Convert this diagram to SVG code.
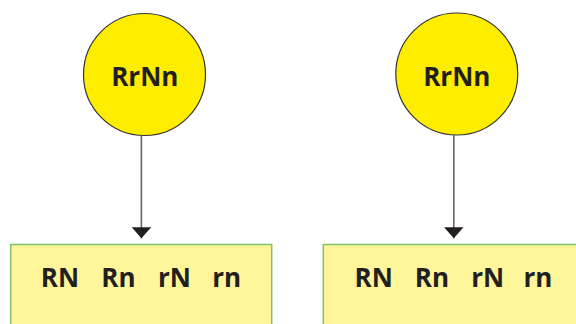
<svg xmlns="http://www.w3.org/2000/svg" width="576" height="324" viewBox="0 0 576 324">
  <style>
    .circ { fill: #ffed00; stroke: #333333; stroke-width: 1.2; }
    .box { fill: #fff59b; stroke: #7dc36a; stroke-width: 1.5; }
    .lbl { font-family: "Open Sans", "Liberation Sans", sans-serif; font-weight: bold; font-size: 26px; fill: #231f20; text-anchor: middle; }
    .conn { stroke: #666666; stroke-width: 1.6; fill: none; marker-end: url(#arr); }
  </style>
  <defs>
    <marker id="arr" markerUnits="userSpaceOnUse" markerWidth="12" markerHeight="20" refX="11" refY="10" orient="auto" viewBox="0 0 12 20">
      <path d="M0,0.3 L11,10 L0,19.7 Z" fill="#231f20"/>
    </marker>
  </defs>
  <rect width="576" height="324" fill="#ffffff"/>

  <g id="parent1">
    <circle class="circ" cx="144.5" cy="74.5" r="61"/>
    <text class="lbl" x="144.8" y="86">RrNn</text>
  </g>
  <g id="parent2">
    <circle class="circ" cx="456.8" cy="74" r="61"/>
    <text class="lbl" x="456.8" y="86">RrNn</text>
  </g>

  <g id="gametes1">
    <rect class="box" x="10.7" y="244.5" width="261" height="100"/>
    <text class="lbl" x="60" y="286.7">RN</text>
    <text class="lbl" x="118.4" y="286.7">Rn</text>
    <text class="lbl" x="174.4" y="286.7">rN</text>
    <text class="lbl" x="226.6" y="286.7">rn</text>
  </g>
  <g id="gametes2">
    <rect class="box" x="323.3" y="244.5" width="270" height="100"/>
    <text class="lbl" x="373.7" y="286.7">RN</text>
    <text class="lbl" x="432" y="286.7">Rn</text>
    <text class="lbl" x="487.7" y="286.7">rN</text>
    <text class="lbl" x="538" y="286.7">rn</text>
  </g>

  <g id="connectors">
    <line class="conn" x1="141.4" y1="135.5" x2="141.4" y2="238.3"/>
    <line class="conn" x1="453.8" y1="135" x2="453.8" y2="238.3"/>
  </g>
</svg>
